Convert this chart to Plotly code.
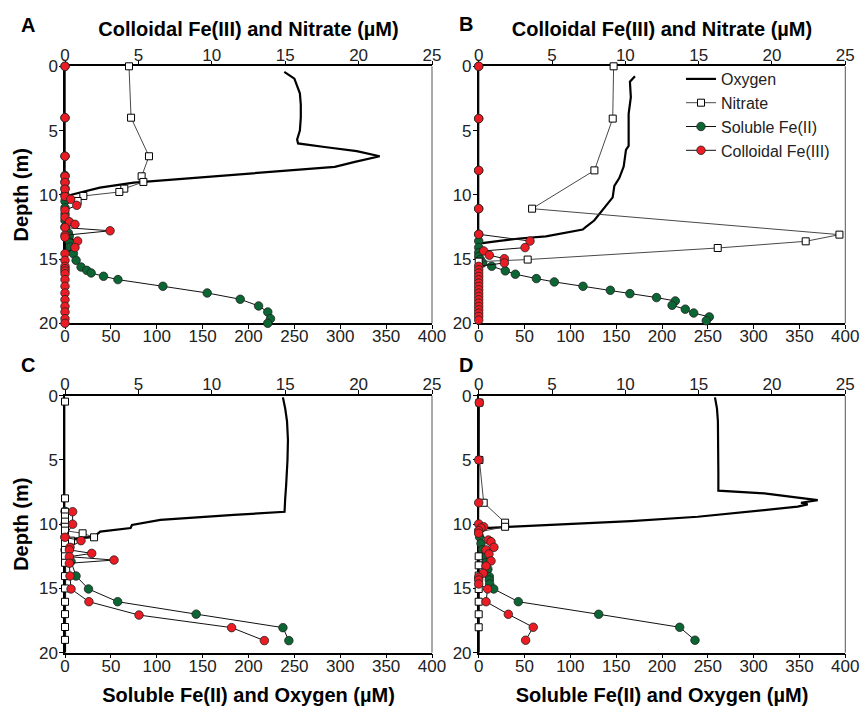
import plotly.graph_objects as go

W, H = 862, 706

# ---------------- data (depth in m, concentrations in µM) ----------------
# Panel A
A_o2_depth = [0.44, 0.96, 2.1, 3.0, 4.0, 5.0, 5.7, 6.0, 6.3, 6.6, 7.0, 7.2, 7.44, 7.83, 8.22, 8.66, 9.05, 9.44, 9.78, 9.99, 10.3, 20.0]
A_o2 = [239, 250, 256, 257, 257, 256, 253, 254, 285, 318, 343, 330, 316, 294, 221, 148, 75, 38, 20, 7, 0, 0]
A_no3_depth = [0, 4, 7, 8.56, 9.0, 9.52, 9.78, 10.09, 10.48]
A_no3 = [4.36, 4.5, 5.72, 5.22, 5.34, 4.04, 3.7, 1.25, 0.86]
A_fe2_depth = [0, 4, 7, 8.5, 9, 9.5, 10, 10.5, 11, 11.5, 12, 12.5, 12.97, 13.23, 13.6, 14.06, 14.58, 15.1, 15.62,
               15.88, 16.08, 16.34, 16.6, 17.12, 17.64, 18.13, 18.65, 19.12, 19.64, 20.0]
A_fe2 = [0, 0, 0, 0, 0, 0, 0, 0, 0, 0, 0, 0, 3.7, 4.7, 4.7, 5.5, 9.1, 12.1, 17.5,
         23.7, 28.5, 42, 57.7, 106.7, 155, 191, 211, 221, 224, 221]
A_fe3_depth = [0, 4, 7, 8.56, 9.04, 9.56, 10.13, 10.35, 10.82, 11.2, 11.75, 12.1, 12.3, 12.55, 12.8, 13.15, 13.3,
               13.6, 14.1, 14.58, 15.1, 15.57, 15.75, 15.93, 16.14, 16.6, 17.12, 17.64, 18.16, 18.68, 19.12, 19.64, 20.0]
A_fe3 = [0, 0, 0, 0, 0, 0, 0, 0.39, 0.8, 0, 0, 0.3, 0.68, 0, 3.07, 0, 0,
         0.86, 0.68, 0, 0, 0, 0, 0, 0, 0, 0, 0, 0, 0, 0, 0, 0]

# Panel B
B_o2_depth = [0.78, 1.2, 2.4, 3.7, 5.0, 6.2, 6.5, 7.8, 8.7, 9.3, 10.2, 10.7, 11.3, 11.7, 12.0, 12.5, 12.7, 13.23, 13.4, 13.6, 13.8, 20.0]
B_o2 = [170.5, 165, 166, 163.6, 163.6, 163.6, 160.7, 158.2, 153.4, 148, 146.2, 140.8, 133.4, 129.8, 126, 117, 113.5, 73.4, 44.3, 20.7, 0, 0]
B_no3_depth = [0, 4.07, 8.1, 11.08, 13.1, 13.62, 14.14, 15.04, 15.2]
B_no3 = [9.2, 9.14, 7.89, 3.64, 24.6, 22.3, 16.3, 3.34, 0]
B_fe2_depth = [0, 4.07, 8.1, 11.08, 13.07, 13.6, 14.1, 14.5, 14.8, 15.04, 15.3, 15.56, 15.92, 16.18, 16.52, 16.78,
               17.12, 17.43, 17.69, 18.0, 18.26, 18.6, 18.9, 19.2, 19.5, 19.8]
B_fe2 = [0, 0, 0, 0, 0, 0, 0, 0, 0, 1.8, 4.4, 14.2, 29, 40, 62.9, 82.5,
         113.8, 143.6, 165, 194, 214.5, 211, 225.4, 234.6, 251.6, 248.3]
B_fe3_depth = [0, 4.07, 8.1, 11.08, 13.07, 13.6, 14.11, 14.37, 14.7, 14.97, 15.3, 15.57, 15.83, 16.09, 16.35, 16.61,
               16.87, 17.13, 17.39, 17.65, 17.91, 18.17, 18.43, 18.69, 18.95, 19.21, 19.47, 19.75]
B_fe3 = [0, 0, 0, 0, 0, 3.5, 3.16, 0.34, 0.73, 1.75, 1.75, 0, 0, 0, 0, 0,
         0, 0, 0, 0, 0, 0, 0, 0, 0, 0, 0, 0]

# Panel C
C_o2_depth = [0.13, 1.0, 2.0, 3.45, 5.0, 6.0, 7.0, 8.0, 9.03, 9.28, 9.67, 10.06, 10.3, 10.58, 10.97, 11.2, 20.0]
C_o2 = [237.5, 240, 242, 243, 242.5, 242, 241, 240, 239.3, 184, 104, 73, 71.5, 38.4, 31.8, 0, 0]
C_no3_depth = [0.46, 7.99, 9.03, 9.4, 9.8, 10.2, 10.5, 10.71, 11.02, 11.28, 11.5, 12.0, 12.5, 13.0, 14.04, 15.0, 16.04, 17.0, 18.0, 19.0]
C_no3 = [0, 0, 0, 0, 0, 0, 0, 1.2, 1.98, 0.41, 0, 0, 0, 0, 0, 0, 0, 0, 0, 0]
C_fe2_depth = [9.0, 10.0, 11.0, 12.0, 12.9, 14.03, 15.04, 16.03, 17.0, 18.05, 19.06]
C_fe2 = [0, 0, 0, 0, 6.6, 12, 25.6, 57.4, 143, 237.5, 244]
C_fe3_depth = [9.03, 10.0, 11.02, 11.28, 11.8, 12.0, 12.27, 12.53, 12.79, 13.04, 14.03, 15.04, 16.03, 17.07, 18.05, 19.06]
C_fe3 = [0.52, 0.52, 0, 1.09, 0.34, 0.3, 1.82, 0.3, 3.34, 0.3, 0.34, 0.41, 1.63, 5.04, 11.35, 13.58]

# Panel D
D_o2_depth = [0.13, 1.0, 2.0, 4.0, 6.0, 7.39, 7.6, 8.12, 8.33, 8.46, 8.63, 8.9, 9.42, 9.76, 10.02, 10.2, 10.3, 10.4, 20.0]
D_o2 = [257.8, 260, 261, 261.5, 261.5, 261.5, 311.6, 369.9, 351.7, 359, 348, 311.6, 239, 166, 93.4, 29.8, 6, 0, 0]
D_no3_depth = [0.54, 5.0, 8.33, 9.88, 10.2, 10.6, 12.5, 13.2, 14.0, 15.04, 16.03, 17.01, 18.02]
D_no3 = [0.05, 0.05, 0.34, 1.8, 1.8, 0, 0, 0, 0, 0, 0, 0, 0]
D_fe2_depth = [11.0, 11.5, 12.0, 12.5, 13.0, 13.5, 14.08, 14.34, 14.65, 15.04, 16.03, 17.01, 18.02, 19.03]
D_fe2 = [1, 2.5, 4, 6, 8, 10, 11.6, 11.6, 12, 16.4, 43.2, 130.9, 219.3, 236]
D_fe3_depth = [0.54, 5.0, 8.33, 9.98, 10.2, 10.3, 10.5, 10.7, 11.23, 11.36, 11.8, 12.0, 12.32, 12.86, 13.25, 13.82,
               14.13, 14.34, 14.65, 15.04, 16.03, 17.01, 18.02, 19.03]
D_fe3 = [0.04, 0, 0, 0, 0.34, 0.16, 0, 0, 0.66, 0.84, 1.04, 0.5, 0.7, 0.84, 0.5, 0.31,
         0, 0, 0, 0.61, 0.5, 2.02, 3.72, 3.2]

# axis ticks
bottom_ticks = [0, 50, 100, 150, 200, 250, 300, 350, 400]
top_ticks = [0, 5, 10, 15, 20, 25]
depth_ticks = [0, 5, 10, 15, 20]

series_names = ["Oxygen", "Nitrate", "Soluble Fe(II)", "Colloidal Fe(III)"]
top_title = "<b>Colloidal Fe(III) and Nitrate (µM)</b>"
bottom_title = "<b>Soluble Fe(II) and Oxygen (µM)</b>"
depth_title = "<b>Depth (m)</b>"

# ---------------- style ----------------
RED = "#ec1c24"
GREEN = "#0b6633"
FONT = "Arial, 'Liberation Sans', Helvetica, sans-serif"

fig = go.Figure()

panels = [
    dict(label="A", data=(A_o2_depth, A_o2, A_no3_depth, A_no3, A_fe2_depth, A_fe2, A_fe3_depth, A_fe3),
         xb="x", xt="x2", ya="y", xpx=(65.0, 432.0), ypx=(66.3, 323.3), toptitle=True, bottitle=False,
         ytitle=True, legend=False, lab=(28, 25)),
    dict(label="B", data=(B_o2_depth, B_o2, B_no3_depth, B_no3, B_fe2_depth, B_fe2, B_fe3_depth, B_fe3),
         xb="x3", xt="x4", ya="y2", xpx=(478.7, 845.3), ypx=(66.3, 323.3), toptitle=True, bottitle=False,
         ytitle=False, legend=True, lab=(466, 24)),
    dict(label="C", data=(C_o2_depth, C_o2, C_no3_depth, C_no3, C_fe2_depth, C_fe2, C_fe3_depth, C_fe3),
         xb="x5", xt="x6", ya="y3", xpx=(65.0, 432.0), ypx=(395.7, 652.7), toptitle=False, bottitle=True,
         ytitle=True, legend=False, lab=(28, 365)),
    dict(label="D", data=(D_o2_depth, D_o2, D_no3_depth, D_no3, D_fe2_depth, D_fe2, D_fe3_depth, D_fe3),
         xb="x7", xt="x8", ya="y4", xpx=(478.7, 845.3), ypx=(395.7, 652.7), toptitle=False, bottitle=True,
         ytitle=False, legend=False, lab=(466, 365)),
]

def axname(ref):
    return ref.replace("x", "xaxis").replace("y", "yaxis")

common_axis = dict(showline=True, linecolor="black", linewidth=1.5, ticks="outside", ticklen=4,
                   tickwidth=1, tickcolor="black", showgrid=False, zeroline=False,
                   tickfont=dict(family=FONT, size=17, color="#222"), automargin=False,
                   layer="below traces")

layout_axes = {}
annotations = []
shapes = []
for p in panels:
    o2d, o2v, nd, nv, f2d, f2v, f3d, f3v = p["data"]
    sl = p["legend"]
    fig.add_trace(go.Scatter(x=o2v, y=o2d, xaxis=p["xb"], yaxis=p["ya"], mode="lines",
                             line=dict(color="black", width=2.2), name=series_names[0],
                             showlegend=sl, cliponaxis=False))
    fig.add_trace(go.Scatter(x=nv, y=nd, xaxis=p["xt"], yaxis=p["ya"], mode="lines+markers",
                             line=dict(color="#333", width=0.9),
                             marker=dict(symbol="square", size=7, color="white",
                                         line=dict(color="black", width=1)),
                             name=series_names[1], showlegend=sl, cliponaxis=False))
    fig.add_trace(go.Scatter(x=f2v, y=f2d, xaxis=p["xb"], yaxis=p["ya"], mode="lines+markers",
                             line=dict(color="#111", width=1),
                             marker=dict(symbol="circle", size=8.5, color=GREEN,
                                         line=dict(color="#222", width=0.8)),
                             name=series_names[2], showlegend=sl, cliponaxis=False))
    fig.add_trace(go.Scatter(x=f3v, y=f3d, xaxis=p["xt"], yaxis=p["ya"], mode="lines+markers",
                             line=dict(color="#111", width=1),
                             marker=dict(symbol="circle", size=8.5, color=RED,
                                         line=dict(color="#222", width=0.8)),
                             name=series_names[3], showlegend=sl, cliponaxis=False))

    xd = [p["xpx"][0] / W, p["xpx"][1] / W]
    yd = [1 - p["ypx"][1] / H, 1 - p["ypx"][0] / H]

    xb = dict(common_axis, domain=xd, anchor=p["ya"], side="bottom", range=[0, 400],
              tickvals=bottom_ticks, ticklabelstandoff=-7)
    if p["bottitle"]:
        xb["title"] = dict(text=bottom_title, font=dict(family=FONT, size=20, color="black"), standoff=14)
    xt = dict(common_axis, overlaying=p["xb"], anchor=p["ya"], side="top", range=[0, 25],
              tickvals=top_ticks, ticklabelstandoff=-7)
    if p["toptitle"]:
        xt["title"] = dict(text=top_title, font=dict(family=FONT, size=20, color="black"), standoff=4)
    ya = dict(common_axis, domain=yd, anchor=p["xb"], range=[20, 0], tickvals=depth_ticks,
              ticklabelstandoff=-2)
    if p["ytitle"]:
        ya["title"] = dict(text=depth_title, font=dict(family=FONT, size=20, color="black"), standoff=5)

    layout_axes[axname(p["xb"])] = xb
    layout_axes[axname(p["xt"])] = xt
    layout_axes[axname(p["ya"])] = ya

    # thin right-hand frame line
    shapes.append(dict(type="line", xref=p["xb"] + " domain", yref=p["ya"] + " domain",
                       x0=1, x1=1, y0=0, y1=1, line=dict(color="#555", width=1)))
    annotations.append(dict(text="<b>%s</b>" % p["label"], xref="paper", yref="paper",
                            x=p["lab"][0] / W, y=1 - p["lab"][1] / H, showarrow=False,
                            xanchor="center", yanchor="middle",
                            font=dict(family=FONT, size=20, color="black")))

fig.update_layout(
    width=W, height=H,
    margin=dict(l=0, r=0, t=0, b=0),
    paper_bgcolor="white", plot_bgcolor="white",
    font=dict(family=FONT, color="black"),
    showlegend=True,
    legend=dict(x=681 / W, y=1 - 62 / H, xanchor="left", yanchor="top",
                bgcolor="rgba(0,0,0,0)", font=dict(family=FONT, size=16, color="#222"),
                tracegroupgap=0, itemwidth=30),
    annotations=annotations,
    shapes=shapes,
    **layout_axes,
)

fig.write_html("out.html")
